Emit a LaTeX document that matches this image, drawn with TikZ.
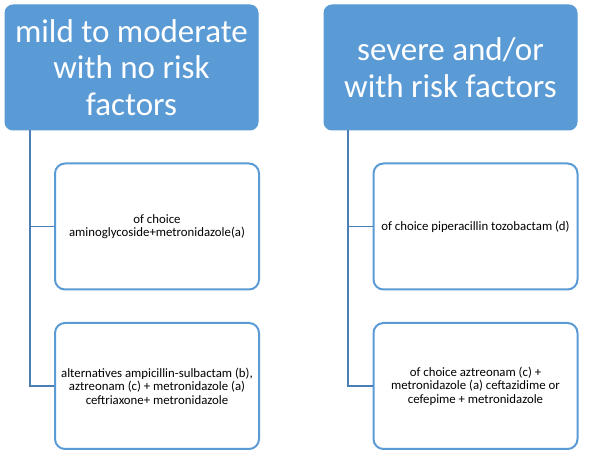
\documentclass[tikz,border=0pt]{standalone}
\usepackage{fontspec}
\setmainfont{Carlito}
\definecolor{headblue}{HTML}{5B9BD5}
\definecolor{linkblue}{HTML}{4A7EB5}

\begin{document}
\begin{tikzpicture}[x=1pt,y=-1pt,
  head/.style={draw=headblue,fill=headblue,rounded corners=8pt,line width=1pt,
    minimum width=253pt,minimum height=125pt,inner sep=0pt,align=center,
    text=white,font=\fontsize{33}{36.7}\selectfont},
  drug/.style={draw=headblue,fill=white,rounded corners=10pt,line width=2pt,
    minimum width=204pt,minimum height=126pt,inner sep=0pt,align=center,
    font=\fontsize{12.8}{13.4}\selectfont},
  link/.style={draw=linkblue,line width=1.8pt}]
\useasboundingbox (0,0) rectangle (590,454);
% left column
\node[head] (lhead) at (131.5,67.5) {mild to moderate\\with no risk\\factors};
\node[drug] (lfirst) at (157,226.5) {of choice\\aminoglycoside+metronidazole(a)};
\node[drug] (lalt) at (157,386) {alternatives ampicillin-sulbactam (b),\\aztreonam (c) + metronidazole (a)\\ceftriaxone+ metronidazole};
\coordinate (ltrunk) at (30,130.5);
\draw[link] (ltrunk) |- (lfirst.west);
\draw[link] (ltrunk) |- (lalt.west);
% right column
\node[head] (rhead) at (450.5,67.5) {severe and/or\\with risk factors};
\node[drug] (rfirst) at (475.5,226.5) {of choice piperacillin tozobactam (d)};
\node[drug] (ralt) at (475.5,386) {of choice aztreonam (c) +\\metronidazole (a) ceftazidime or\\cefepime + metronidazole};
\coordinate (rtrunk) at (348,130.5);
\draw[link] (rtrunk) |- (rfirst.west);
\draw[link] (rtrunk) |- (ralt.west);
\end{tikzpicture}
\end{document}
